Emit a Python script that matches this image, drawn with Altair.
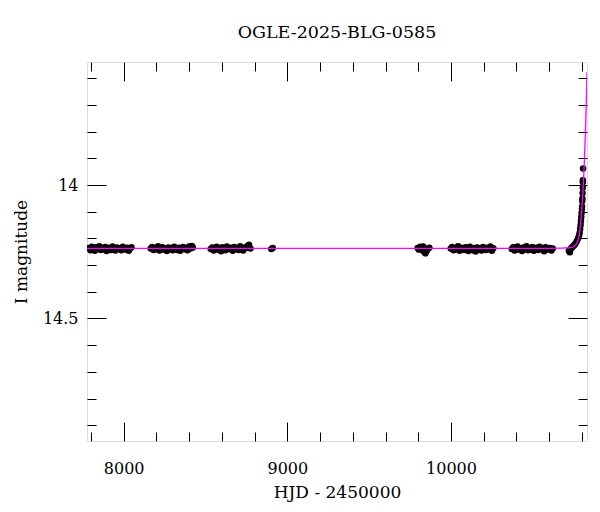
import altair as alt
import pandas as pd

# ---------------- data ----------------
s1_hjd = [7788, 7797, 7806, 7815, 7824, 7833, 7842, 7851, 7860, 7869, 7878, 7887, 7896, 7905, 7914,
          7923, 7932, 7941, 7950, 7959, 7968, 7977, 7986, 7995, 8004, 8013, 8022, 8031, 8040, 8048]
s1_mag = [14.236, 14.244, 14.231, 14.240, 14.246, 14.233, 14.238, 14.229, 14.243, 14.236, 14.241, 14.232,
          14.247, 14.235, 14.239, 14.243, 14.230, 14.238, 14.245, 14.234, 14.240, 14.237, 14.244, 14.231,
          14.239, 14.242, 14.235, 14.246, 14.238, 14.233]

s2_hjd = [8165, 8174, 8183, 8192, 8201, 8210, 8219, 8228, 8237, 8246, 8255, 8264, 8273, 8282, 8291,
          8300, 8309, 8318, 8327, 8336, 8345, 8354, 8363, 8372, 8381, 8390, 8399, 8408, 8417, 8423]
s2_mag = [14.238, 14.232, 14.243, 14.236, 14.241, 14.229, 14.245, 14.237, 14.233, 14.242, 14.239, 14.247,
          14.234, 14.240, 14.236, 14.244, 14.231, 14.238, 14.243, 14.235, 14.246, 14.239, 14.232, 14.241,
          14.237, 14.244, 14.230, 14.238, 14.228, 14.234]

s3_hjd = [8532, 8541, 8550, 8559, 8568, 8577, 8586, 8595, 8604, 8613, 8622, 8631, 8640, 8649, 8658,
          8667, 8676, 8685, 8694, 8703, 8712, 8721, 8730, 8739, 8748, 8757, 8766, 8775, 8902, 8911]
s3_mag = [14.240, 14.234, 14.245, 14.237, 14.231, 14.242, 14.236, 14.248, 14.233, 14.239, 14.244, 14.230,
          14.238, 14.241, 14.235, 14.246, 14.232, 14.240, 14.237, 14.243, 14.229, 14.239, 14.245, 14.234,
          14.236, 14.228, 14.224, 14.238, 14.240, 14.236]

s4_hjd = [9796, 9804, 9812, 9820, 9828, 9836, 9844, 9852, 9860, 9868, 9830, 9850]
s4_mag = [14.236, 14.242, 14.231, 14.239, 14.245, 14.250, 14.256, 14.243, 14.238, 14.235, 14.230, 14.247]

s5_hjd = [9998, 10007, 10016, 10025, 10034, 10043, 10052, 10061, 10070, 10079, 10088, 10097, 10106, 10115,
          10124, 10133, 10142, 10151, 10160, 10169, 10178, 10187, 10196, 10205, 10214, 10223, 10232, 10241,
          10250, 10259]
s5_mag = [14.238, 14.232, 14.244, 14.236, 14.241, 14.229, 14.246, 14.235, 14.239, 14.243, 14.233, 14.240,
          14.247, 14.231, 14.237, 14.244, 14.236, 14.249, 14.234, 14.240, 14.238, 14.245, 14.232, 14.239,
          14.243, 14.235, 14.241, 14.230, 14.246, 14.237]

s6_hjd = [10371, 10380, 10389, 10398, 10407, 10416, 10425, 10434, 10443, 10452, 10461, 10470, 10479, 10488,
          10497, 10506, 10515, 10524, 10533, 10542, 10551, 10560, 10569, 10578, 10587, 10596, 10605, 10614,
          10622]
s6_mag = [14.240, 14.233, 14.245, 14.236, 14.230, 14.242, 14.238, 14.247, 14.234, 14.239, 14.229, 14.244,
          14.236, 14.241, 14.232, 14.246, 14.238, 14.235, 14.243, 14.231, 14.240, 14.237, 14.248, 14.233,
          14.239, 14.242, 14.236, 14.245, 14.238]

rise_hjd = [10720, 10726, 10731, 10736, 10742, 10748, 10755, 10762, 10769, 10776, 10782, 10786, 10789,
            10792, 10794, 10796, 10798, 10800, 10801, 10802, 10803, 10804, 10805, 10806, 10806, 10807]
rise_mag = [14.246, 14.252, 14.240, 14.236, 14.232, 14.228, 14.224, 14.218, 14.210, 14.200, 14.190, 14.180,
            14.165, 14.150, 14.135, 14.120, 14.105, 14.090, 14.080, 14.060, 14.050, 14.030, 14.010, 13.990,
            13.982, 13.938]

model_hjd = [7776, 10600, 10680, 10720, 10745, 10760, 10769, 10776, 10782, 10786, 10790, 10794, 10798,
             10802, 10806, 10810, 10814, 10818, 10822, 10826, 10831]
model_mag = [14.237, 14.237, 14.236, 14.235, 14.233, 14.226, 14.218, 14.206, 14.194, 14.178, 14.156, 14.130,
             14.100, 14.066, 14.025, 13.978, 13.924, 13.862, 13.790, 13.706, 13.576]

x_major = [8000, 9000, 10000]
x_minor = [7800, 8200, 8400, 8600, 8800, 9200, 9400, 9600, 9800, 10200, 10400, 10600, 10800]
y_major = [14.0, 14.5]
y_minor = [13.6, 13.7, 13.8, 13.9, 14.1, 14.2, 14.3, 14.4, 14.6, 14.7, 14.8, 14.9]

X_DOMAIN = [7776, 10831]
Y_DOMAIN = [13.539, 14.959]

TITLE = "OGLE-2025-BLG-0585"
X_TITLE = "HJD - 2450000"
Y_TITLE = "I magnitude"

# ---------------- tables ----------------
rows = []
for hs, ms in [(s1_hjd, s1_mag), (s2_hjd, s2_mag), (s3_hjd, s3_mag), (s4_hjd, s4_mag),
               (s5_hjd, s5_mag), (s6_hjd, s6_mag), (rise_hjd, rise_mag)]:
    for h, m in zip(hs, ms, strict=True):
        rows.append({"hjd": h, "mag": m})
pts = pd.DataFrame(rows)
model = pd.DataFrame({"hjd": model_hjd, "mag": model_mag})

FONT = "DejaVu Serif"
MAJ = 19
MIN = 9

xs = alt.Scale(domain=X_DOMAIN, nice=False, zero=False)
ys = alt.Scale(domain=Y_DOMAIN, nice=False, zero=False, reverse=True)


def tick_axis(orient, values, size):
    return alt.Axis(orient=orient, values=values, ticks=True, tickSize=size, offset=-size,
                    labels=False, domain=False, grid=False, title=None,
                    tickColor="black", tickWidth=1)


label_x = alt.Axis(orient="bottom", values=x_major, format="d", ticks=False, tickSize=0,
                   domain=False, grid=False, labelPadding=19, labelFont=FONT, labelFontSize=16,
                   labelColor="black", title=X_TITLE, titleFont=FONT, titleFontSize=17,
                   titleFontWeight="normal", titleColor="black", titlePadding=8)
label_y = alt.Axis(orient="left", values=y_major, labelExpr="'' + datum.value", ticks=False,
                   tickSize=0, domain=False, grid=False, labelPadding=9, labelFont=FONT,
                   labelFontSize=16, labelColor="black", title=Y_TITLE, titleFont=FONT,
                   titleFontSize=17, titleFontWeight="normal", titleColor="black",
                   titlePadding=12)

points = alt.Chart(pts).mark_circle(size=42, color="black", opacity=1, clip=True).encode(
    x=alt.X("hjd:Q", scale=xs, axis=label_x),
    y=alt.Y("mag:Q", scale=ys, axis=label_y),
)

line = alt.Chart(model).mark_line(color="#ff00ff", strokeWidth=1.3, clip=True).encode(
    x=alt.X("hjd:Q", scale=xs, axis=tick_axis("bottom", x_major, MAJ)),
    y=alt.Y("mag:Q", scale=ys, axis=tick_axis("left", y_major, MAJ)),
)


def ghost(xa, ya):
    return alt.Chart(model).mark_point(opacity=0).encode(
        x=alt.X("hjd:Q", scale=xs, axis=xa),
        y=alt.Y("mag:Q", scale=ys, axis=ya),
    )


g1 = ghost(tick_axis("bottom", x_minor, MIN), tick_axis("left", y_minor, MIN))
g2 = ghost(tick_axis("top", x_major, MAJ), tick_axis("right", y_major, MAJ))
g3 = ghost(tick_axis("top", x_minor, MIN), tick_axis("right", y_minor, MIN))

chart = (
    alt.layer(points, line, g1, g2, g3)
    .resolve_axis(x="independent", y="independent")
    .properties(
        width=500,
        height=379,
        title=alt.Title(TITLE, font=FONT, fontSize=17.5, fontWeight="normal", color="black",
                        anchor="middle", baseline="alphabetic", offset=6),
        autosize=alt.AutoSizeParams(type="none"),
        padding={"left": 79, "top": 54, "right": 5, "bottom": 63},
    )
    .configure_view(stroke="black", strokeWidth=1)
    .configure(background="white")
)

chart.save("out.html", embed_options={"renderer": "svg", "actions": False})
